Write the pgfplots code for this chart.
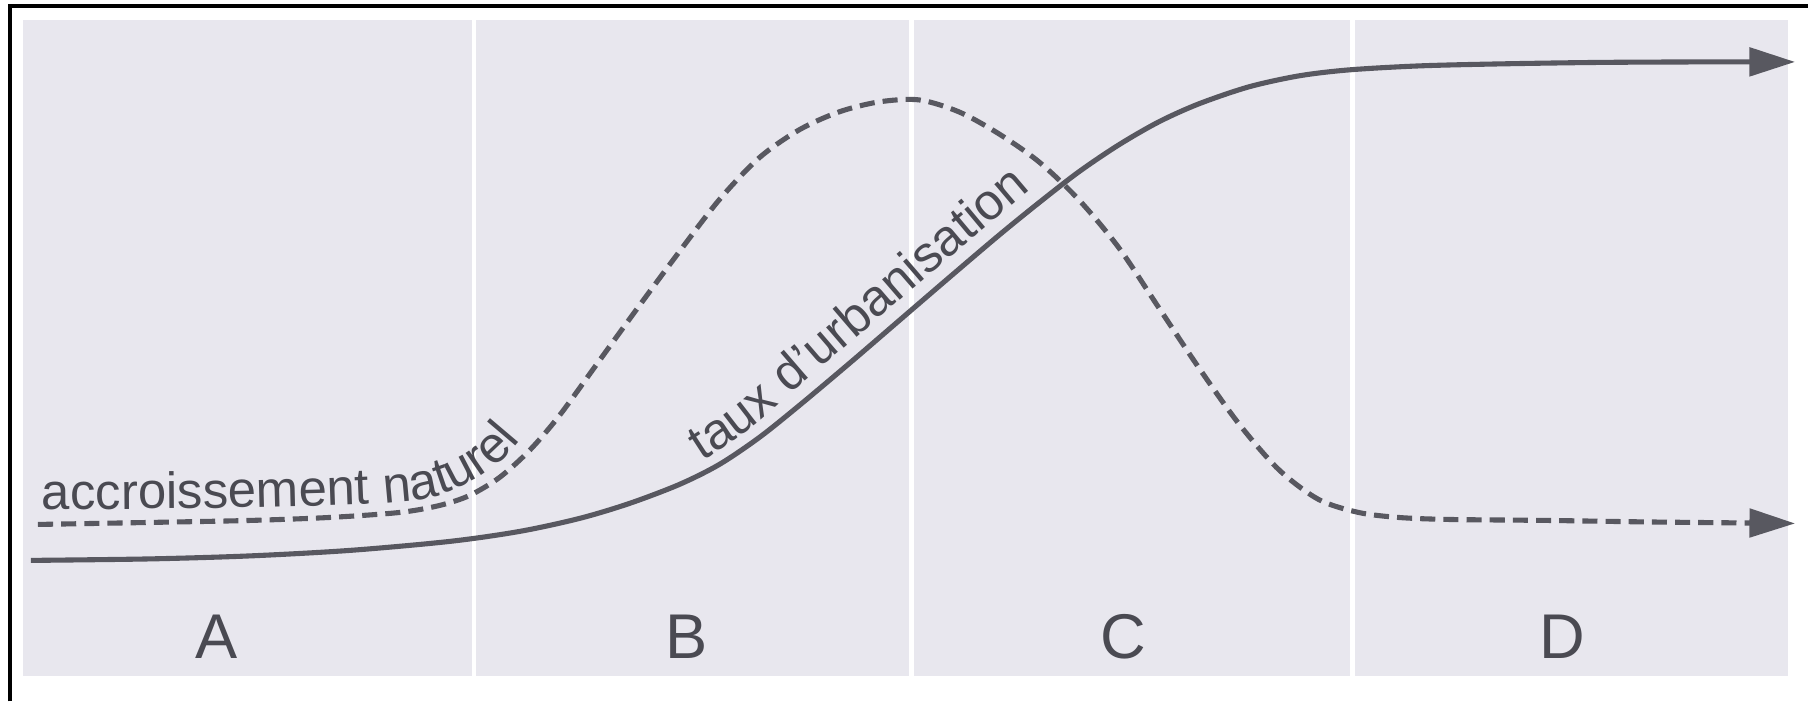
\documentclass[border=0pt]{standalone}
\usepackage{pgfplots}
\pgfplotsset{compat=1.18}
\usepackage{fontspec}
\setmainfont{Liberation Sans}
\usetikzlibrary{arrows.meta,decorations.text}
\definecolor{panel}{RGB}{232,231,238}
\definecolor{curve}{RGB}{88,88,96}
\definecolor{ink}{RGB}{74,74,82}
\newcommand\lblfont{\fontsize{14.5}{16}\selectfont}

\begin{document}
\begin{tikzpicture}
\begin{axis}[
    scale only axis,
    width=18.1cm, height=7.02cm,
    xmin=0, xmax=1810, ymin=0, ymax=702,
    y dir=reverse,
    hide axis,
    clip=false
]
\path (axis cs:0,0) rectangle (axis cs:1810,702);

% grey panels A-D
\addplot[fill=panel, draw=none] coordinates {(23,20) (472,20) (472,677) (23,677)};
\addplot[fill=panel, draw=none] coordinates {(477,20) (910,20) (910,677) (477,677)};
\addplot[fill=panel, draw=none] coordinates {(915,20) (1351,20) (1351,677) (915,677)};
\addplot[fill=panel, draw=none] coordinates {(1356,20) (1790,20) (1790,677) (1356,677)};

% frame (top and left only)
\addplot[black, line width=1.1pt] coordinates {(10,702) (10,6) (1810,6)};

% taux d'urbanisation
\addplot[curve, line width=1.45pt, smooth, -{Triangle[length=13pt,width=8pt]}] coordinates {
    (31,561) (150,559.5) (250,556.5) (350,551) (450,542) (520,532) (580,519)
    (630,504) (680,485) (720,465) (760,438) (800,406) (850,364) (900,321)
    (950,278) (1000,235.5) (1040,203) (1080,172) (1120,145) (1160,122)
    (1200,104) (1250,87) (1300,76) (1350,70) (1420,66) (1500,64)
    (1600,62.5) (1700,62) (1797,62)
};

% accroissement naturel
\addplot[curve, line width=1.45pt, smooth, dash pattern=on 4.3pt off 2.3pt,
    -{Triangle[length=13pt,width=8pt]}] coordinates {
    (38,525) (150,523) (250,521) (330,518) (400,513) (440,506) (470,496)
    (500,478) (530,451) (560,416) (600,361) (640,306) (680,252) (720,200)
    (760,158) (800,130) (840,112) (880,102) (920,100) (960,112) (1000,134)
    (1040,162) (1080,200) (1120,248) (1160,308) (1200,368) (1240,424)
    (1280,470) (1320,500) (1360,513) (1400,518) (1450,520) (1550,521)
    (1650,522.5) (1797,524)
};

% labels along the curves
\path[decorate, decoration={text along path, text align=left, text color=ink,
    text={|\lblfont|accroissement naturel}}]
    plot[smooth] coordinates {(axis cs:42,510) (axis cs:200,509) (axis cs:330,506)
    (axis cs:395,503) (axis cs:430,498) (axis cs:460,488) (axis cs:485,474)
    (axis cs:505,458) (axis cs:525,435) (axis cs:545,405)};
\path[decorate, decoration={text along path, text align=left, text color=ink,
    text={|\lblfont|taux d'urbanisation}}]
    plot[smooth] coordinates {(axis cs:703,462) (axis cs:749,431) (axis cs:791,395)
    (axis cs:841,352) (axis cs:891,309) (axis cs:941,266) (axis cs:991,224)
    (axis cs:1055,171) (axis cs:1115,132)};

% phase letters
\node[font=\fontsize{18}{20}\selectfont, text=ink] at (axis cs:217,637) {A};
\node[font=\fontsize{18}{20}\selectfont, text=ink] at (axis cs:687,637) {B};
\node[font=\fontsize{18}{20}\selectfont, text=ink] at (axis cs:1125,637) {C};
\node[font=\fontsize{18}{20}\selectfont, text=ink] at (axis cs:1564,637) {D};
\end{axis}
\end{tikzpicture}
\end{document}
